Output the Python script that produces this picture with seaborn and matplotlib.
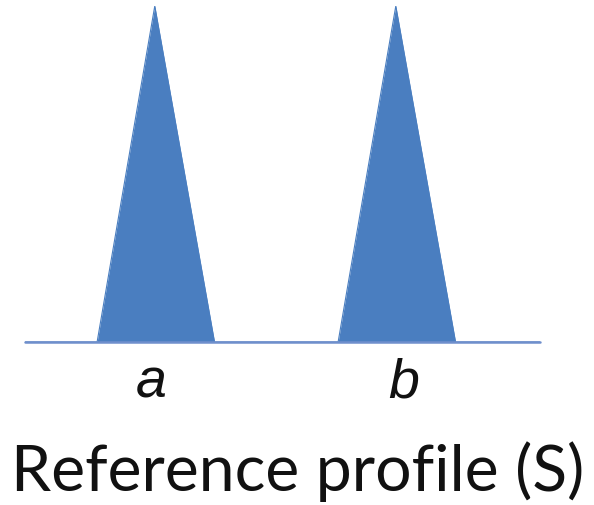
import matplotlib
matplotlib.use("Agg")
import matplotlib.pyplot as plt
import matplotlib.transforms as mtransforms
import pandas as pd
import seaborn as sns

# Reference profile: two triangular peaks on a flat baseline
profile_x = [0.0, 1.40, 2.52, 3.68, 6.08, 7.20, 8.36, 10.0]
profile_y = [0.0, 0.0, 1.0, 0.0, 0.0, 1.0, 0.0, 0.0]
peak_labels = ["a", "b"]
peak_x = [2.45, 7.35]
title_text = "Reference profile (S)"

fill_color = "#4a7ec0"
line_color = "#6f8fcc"

sns.set_theme(style="white")
plt.rcParams["font.family"] = ["Lato", "DejaVu Sans"]

fig = plt.figure(figsize=(5.94, 5.06), dpi=100)
ax = fig.add_axes([25 / 594, (506 - 343) / 506, 515 / 594, 336 / 506])

df = pd.DataFrame({"x": profile_x, "y": profile_y})
ax.fill_between(df["x"], 0, df["y"], color=fill_color, linewidth=0)
sns.lineplot(data=df, x="x", y="y", ax=ax, color=fill_color, linewidth=0.8)
ax.axhline(0, color=line_color, linewidth=1.8, clip_on=False, zorder=3)

ax.set_xlim(0, 10)
ax.set_ylim(0, 1)
ax.set_axis_off()

trans = mtransforms.blended_transform_factory(ax.transData, fig.transFigure)
for lab, px in zip(peak_labels, peak_x):
    ax.text(px, (506 - 398) / 506, lab, transform=trans, ha="center",
            va="baseline", fontsize=40, style="italic",
            family=["Liberation Sans", "DejaVu Sans"], color="#111111")

t = fig.text(298 / 594, (506 - 491) / 506, title_text, ha="center",
             va="baseline", fontsize=46, color="#111111")

# Scale the title so it spans the figure width
fig.canvas.draw()
bb = t.get_window_extent()
t.set_fontsize(46 * 573 / bb.width)

fig.savefig("out.png", dpi=100, facecolor="white")
